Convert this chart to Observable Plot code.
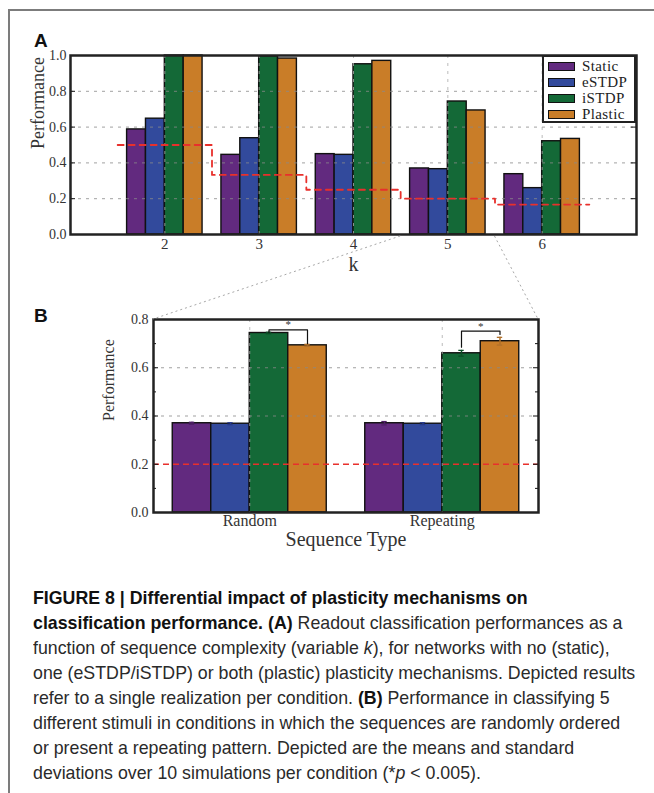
<!DOCTYPE html>
<html><head><meta charset="utf-8">
<script src="https://cdn.jsdelivr.net/npm/d3@7"></script>
<script src="https://cdn.jsdelivr.net/npm/@observablehq/plot@0.6"></script>
<style>
body{margin:0;background:#fff;}
#page{position:relative;width:654px;height:793px;overflow:hidden;background:#fff;}
#border{position:absolute;left:8px;top:9px;width:700px;height:800px;border-top:2px solid #7c7c7c;border-left:2px solid #7c7c7c;}
.plabel{position:absolute;font:bold 19px "Liberation Sans",Arial,sans-serif;color:#111;line-height:1;}
#chartA{position:absolute;left:0;top:45px;}
#chartB{position:absolute;left:0;top:300px;}
#legend{position:absolute;left:542px;top:55px;width:90px;height:64px;border:2.5px solid #222;background:#fff;padding:0;}
#legend .row{position:absolute;left:4px;height:16px;display:flex;align-items:center;font:15px "Liberation Serif",serif;color:#222;letter-spacing:0.4px;}
#legend .sw{width:25px;height:7px;border:1.5px solid #111;margin-right:7px;}
#caption{position:absolute;left:33px;top:585px;font-family:"Liberation Sans",Arial,sans-serif;font-size:19px;line-height:25px;color:#2a2a2a;white-space:nowrap;transform:scaleX(0.935);transform-origin:0 0;}
#caption b{color:#111;}
#overlay{position:absolute;left:0;top:0;pointer-events:none;}
svg{overflow:visible;}
</style>
</head>
<body>
<div id="page">
  <div id="border"></div>
  <div class="plabel" style="left:34px;top:31px;">A</div>
  <div class="plabel" style="left:34px;top:306px;">B</div>
  <div id="chartA"></div>
  <div id="legend"></div>
  <div id="chartB"></div>
  <div id="caption">
<b>FIGURE 8 | Differential impact of plasticity mechanisms on</b><br>
<b>classification performance. (A)</b> Readout classification performances as a<br>
function of sequence complexity (variable <i>k</i>), for networks with no (static),<br>
one (eSTDP/iSTDP) or both (plastic) plasticity mechanisms. Depicted results<br>
refer to a single realization per condition. <b>(B)</b> Performance in classifying 5<br>
different stimuli in conditions in which the sequences are randomly ordered<br>
or present a repeating pattern. Depicted are the means and standard<br>
deviations over 10 simulations per condition (*<i>p</i> &lt; 0.005).
  </div>
</div>
<script>
// ---------- data ----------
const seriesNames = ["Static", "eSTDP", "iSTDP", "Plastic"];
const seriesColors = ["#622a7f", "#324a9c", "#146937", "#c97d28"];
const errColors = ["#4d1e66", "#26398a", "#0c4f27", "#b0702a"];

// Panel A
const kValues = [2, 3, 4, 5, 6];
const staticA  = [0.587, 0.445, 0.449, 0.369, 0.337];
const eSTDPA   = [0.647, 0.538, 0.445, 0.365, 0.259];
const iSTDPA   = [1.000, 0.995, 0.951, 0.743, 0.521];
const plasticA = [1.000, 0.983, 0.970, 0.693, 0.534];
const chanceX  = [1.5, 2.5, 3.5, 4.5, 5.5, 6.5];
const chanceY  = [0.5, 0.333, 0.25, 0.2, 0.167, 0.167];
const yTicksA  = [0, 0.2, 0.4, 0.6, 0.8, 1.0];
const zoomedK  = 5;

// Panel B
const groupsB = ["Random", "Repeating"];
const groupCentersB = [2.5, 7.5];
const meanRandom    = [0.370, 0.368, 0.744, 0.693];
const sdRandom      = [0.004, 0.004, 0.003, 0.004];
const meanRepeating = [0.370, 0.368, 0.660, 0.710];
const sdRepeating   = [0.007, 0.004, 0.012, 0.016];
const chanceB = 0.2;
const yTicksB = [0, 0.2, 0.4, 0.6, 0.8];
const yMinorB = [0.1, 0.3, 0.5, 0.7];
const sigTop   = [0.757, 0.752];
const sigLeft  = [0.746, 0.685];
const sigRight = [0.700, 0.738];

const serif = "'Liberation Serif','Times New Roman',serif";

// ---------- Panel A ----------
const barOffsets = [-0.4, -0.2, 0, 0.2];
const seriesA = [staticA, eSTDPA, iSTDPA, plasticA];
const barsA = [];
kValues.forEach((k, i) => seriesA.forEach((arr, j) => {
  barsA.push({series: seriesNames[j], x1: k + barOffsets[j], x2: k + barOffsets[j] + 0.2, value: arr[i]});
}));
const chanceRows = chanceX.map((x, i) => ({x, y: chanceY[i]}));

const WA = 654, mLA = 70, mRA = 18;
const innerWA = WA - mLA - mRA;
const plotA = Plot.plot({
  width: WA, height: 245, marginLeft: mLA, marginRight: mRA, marginTop: 10, marginBottom: 56,
  style: {fontFamily: serif, fontSize: "14px", color: "#333", background: "transparent", overflow: "visible"},
  x: {domain: [1, 7]},
  y: {domain: [0, 1]},
  color: {domain: seriesNames, range: seriesColors},
  marks: [
    Plot.rect(barsA, {x1: "x1", x2: "x2", y1: 0, y2: "value", fill: "series", stroke: "#111", strokeWidth: 1.4}),
    Plot.ruleY([0.2, 0.4, 0.6, 0.8], {stroke: "#8a8a8a", strokeOpacity: 0.8, strokeDasharray: "3,5"}),
    Plot.ruleX(kValues, {stroke: "#aaa", strokeOpacity: 0.8, strokeDasharray: "3,5"}),
    Plot.line(chanceRows, {x: "x", y: "y", curve: "step-after", stroke: "#e8302c", strokeWidth: 1.8, strokeDasharray: "6,5"}),
    Plot.tickY(yTicksA, {y: d => d, insetRight: innerWA - 5, stroke: "#111", strokeWidth: 1}),
    Plot.tickY(yTicksA, {y: d => d, insetLeft: innerWA - 5, stroke: "#111", strokeWidth: 1}),
    Plot.frame({stroke: "#222", strokeWidth: 2.5}),
    Plot.axisY({ticks: yTicksA, tickSize: 0, tickPadding: 4, tickFormat: d3.format(".1f"), label: null, fontSize: 14}),
    Plot.axisX({ticks: kValues, tickSize: 0, tickPadding: 4, tickFormat: d => String(d), label: null, fontSize: 15}),
    Plot.text(["Performance"], {frameAnchor: "left", text: d => d, rotate: -90, dx: -32, dy: 4, fontSize: 18, fill: "#333"}),
    Plot.text(["k"], {frameAnchor: "bottom", text: d => d, dy: 36, fontSize: 20, fill: "#333"})
  ]
});
document.getElementById("chartA").appendChild(plotA);

// legend
const legend = document.getElementById("legend");
seriesNames.forEach((s, i) => {
  const row = document.createElement("div");
  row.className = "row";
  row.style.top = (1 + i * 16) + "px";
  const sw = document.createElement("div");
  sw.className = "sw";
  sw.style.background = seriesColors[i];
  row.appendChild(sw);
  row.appendChild(document.createTextNode(s));
  legend.appendChild(row);
});

// ---------- Panel B ----------
const barsB = [];
groupsB.forEach((g, gi) => {
  const means = gi === 0 ? meanRandom : meanRepeating;
  const sds = gi === 0 ? sdRandom : sdRepeating;
  seriesNames.forEach((s, j) => {
    const x1 = groupCentersB[gi] - 2 + j;
    barsB.push({group: g, series: s, si: j, x1, x2: x1 + 1, xc: x1 + 0.5, value: means[j], sd: sds[j]});
  });
});
const sigRows = [];
groupsB.forEach((g, gi) => {
  const xl = groupCentersB[gi] + 0.5, xr = groupCentersB[gi] + 1.5;
  sigRows.push({group: g, x: xl, y: sigLeft[gi]}, {group: g, x: xl, y: sigTop[gi]},
               {group: g, x: xr, y: sigTop[gi]}, {group: g, x: xr, y: sigRight[gi]});
});
const starRows = groupsB.map((g, gi) => ({x: groupCentersB[gi] + 1, y: sigTop[gi]}));

const WB = 654, mLB = 153, mRB = 116;
const innerWB = WB - mLB - mRB;
const errMarks = [];
seriesNames.forEach((s, j) => {
  const d = barsB.filter(b => b.si === j);
  errMarks.push(
    Plot.ruleX(d, {x: "xc", y1: b => b.value - b.sd, y2: b => b.value + b.sd, stroke: errColors[j], strokeWidth: 1.5}),
    Plot.ruleY(d, {y: b => b.value + b.sd, x1: b => b.xc - 0.07, x2: b => b.xc + 0.07, stroke: errColors[j], strokeWidth: 1.3}),
    Plot.ruleY(d, {y: b => b.value - b.sd, x1: b => b.xc - 0.07, x2: b => b.xc + 0.07, stroke: errColors[j], strokeWidth: 1.3})
  );
});
const plotB = Plot.plot({
  width: WB, height: 250, marginLeft: mLB, marginRight: mRB, marginTop: 19, marginBottom: 38,
  style: {fontFamily: serif, fontSize: "14px", color: "#333", background: "transparent", overflow: "visible"},
  x: {domain: [0, 10]},
  y: {domain: [0, 0.8]},
  color: {domain: seriesNames, range: seriesColors},
  marks: [
    Plot.rect(barsB, {x1: "x1", x2: "x2", y1: 0, y2: "value", fill: "series", stroke: "#111", strokeWidth: 1.4}),
    Plot.ruleY([0.4, 0.6], {stroke: "#8a8a8a", strokeOpacity: 0.8, strokeDasharray: "3,5"}),
    Plot.ruleX(groupCentersB, {stroke: "#aaa", strokeOpacity: 0.8, strokeDasharray: "3,5"}),
    Plot.ruleY([chanceB], {stroke: "#e8302c", strokeWidth: 1.3, strokeDasharray: "6,4"}),
    ...errMarks,
    Plot.line(sigRows, {x: "x", y: "y", z: "group", stroke: "#111", strokeWidth: 1.2}),
    Plot.text(starRows, {x: "x", y: "y", text: () => "*", dy: -5, fontSize: 11, fill: "#333"}),
    Plot.tickY(yTicksB, {y: d => d, insetRight: innerWB - 5, stroke: "#111"}),
    Plot.tickY(yTicksB, {y: d => d, insetLeft: innerWB - 5, stroke: "#111"}),
    Plot.tickY(yMinorB, {y: d => d, insetRight: innerWB - 3, stroke: "#111"}),
    Plot.tickY(yMinorB, {y: d => d, insetLeft: innerWB - 3, stroke: "#111"}),
    Plot.frame({stroke: "#222", strokeWidth: 2.5}),
    Plot.axisY({ticks: yTicksB, tickSize: 0, tickPadding: 5, tickFormat: d3.format(".1f"), label: null, fontSize: 14}),
    Plot.axisX({ticks: groupCentersB, tickSize: 0, tickPadding: 2, tickFormat: d => groupsB[groupCentersB.indexOf(d)], label: null, fontSize: 16}),
    Plot.text(["Performance"], {frameAnchor: "left", text: d => d, rotate: -90, dx: -45, dy: 5, fontSize: 16, fill: "#333"}),
    Plot.text(["Sequence Type"], {frameAnchor: "bottom", text: d => d, dy: 33, fontSize: 20, fill: "#333"})
  ]
});
document.getElementById("chartB").appendChild(plotB);

// ---------- zoom connector lines (from scales) ----------
const topA = 45, topB = 300;
const sxA = plotA.scale("x"), syA = plotA.scale("y");
const sxB = plotB.scale("x"), syB = plotB.scale("y");
const NS = "http://www.w3.org/2000/svg";
const ov = document.createElementNS(NS, "svg");
ov.setAttribute("id", "overlay");
ov.setAttribute("width", 654);
ov.setAttribute("height", 793);
const segs = [
  [sxA.apply(zoomedK - 0.5), topA + syA.apply(0) + 2, sxB.apply(0), topB + syB.apply(0.8)],
  [sxA.apply(zoomedK + 0.5), topA + syA.apply(0) + 2, sxB.apply(10), topB + syB.apply(0.8)]
];
segs.forEach(([x1, y1, x2, y2]) => {
  const l = document.createElementNS(NS, "line");
  l.setAttribute("x1", x1); l.setAttribute("y1", y1);
  l.setAttribute("x2", x2); l.setAttribute("y2", y2);
  l.setAttribute("stroke", "#a8a8a8");
  l.setAttribute("stroke-width", "1");
  l.setAttribute("stroke-dasharray", "2,3");
  ov.appendChild(l);
});
document.getElementById("page").appendChild(ov);
</script>
</body></html>
